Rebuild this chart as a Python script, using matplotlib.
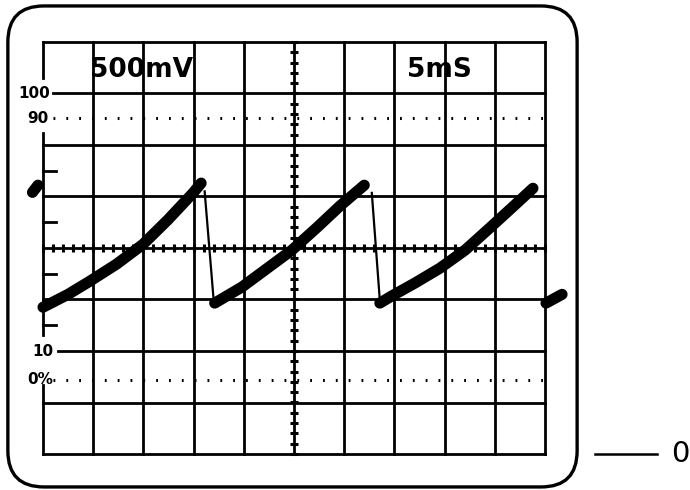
import numpy as np
import matplotlib
matplotlib.use("Agg")
import matplotlib.pyplot as plt
from matplotlib.patches import FancyBboxPatch

# Graticule: 10 x 8 divisions, values in divisions from the centre row
x_lines = list(range(0, 11))
y_lines = list(range(-4, 5))

# Level labels on the left edge (text, height in divisions, right end in divisions)
level_labels = ["100", "90", "10", "0%"]
level_heights = [3.0, 2.52, -2.0, -2.56]
level_right = [0.14, 0.10, 0.20, 0.20]
dotted_levels = [2.52, -2.56]

# Trace: three ramps of the sawtooth
ramp1_x = [0.0, 0.5, 0.94, 1.47, 1.99, 2.49, 2.99, 3.15]
ramp1_y = [-1.15, -0.90, -0.64, -0.31, 0.07, 0.55, 1.07, 1.26]
ramp2_x = [3.42, 3.96, 4.46, 4.96, 5.46, 5.92, 6.40]
ramp2_y = [-1.07, -0.76, -0.40, -0.04, 0.40, 0.82, 1.22]
ramp3_x = [6.71, 6.95, 7.41, 7.91, 8.41, 8.90, 9.36, 9.76]
ramp3_y = [-1.07, -0.93, -0.68, -0.39, -0.04, 0.39, 0.80, 1.16]
# Fly-back lines (thin)
drop1_x = [3.22, 3.40]
drop1_y = [1.10, -1.02]
drop2_x = [6.55, 6.71]
drop2_y = [1.07, -1.02]
# Stray pieces of trace outside the graticule
stub_left_x = [-0.21, -0.10]
stub_left_y = [1.08, 1.22]
stub_right_x = [10.02, 10.34]
stub_right_y = [-1.07, -0.90]

fig = plt.figure(figsize=(6.9, 4.9), dpi=100)
ax = fig.add_axes([0, 0, 1, 1])
ax.set_xlim(-43 / 50.2, (690 - 43) / 50.2)
ax.set_ylim((248 - 490) / 51.5, 248 / 51.5)
ax.axis("off")

ink = "black"
glw = 2.0

# rounded screen frame
frame = FancyBboxPatch((-0.70, -4.64), 11.34, 9.34,
                       boxstyle="round,pad=0,rounding_size=0.72",
                       mutation_aspect=0.975, fill=False, ec=ink, lw=2.4)
ax.add_patch(frame)

# vertical grid lines (left edge broken around the labels)
for x in x_lines:
    if x == 0:
        for y0, y1 in [(4, 3.30), (2.23, -1.69), (-2.66, -4)]:
            ax.plot([0, 0], [y0, y1], color=ink, lw=glw)
    else:
        ax.plot([x, x], [-4, 4], color=ink, lw=glw)

# horizontal grid lines
for y in y_lines:
    start = 0.0
    if y == 3:
        start = 0.2
    if y == -2:
        start = 0.3
    ax.plot([start, 10], [y, y], color=ink, lw=glw)

# dotted 90% / 0% lines
for y in dotted_levels:
    ax.plot([0.2, 10], [y, y], color=ink, lw=2.2, linestyle=(0, (0.6, 3.6)))

# minor ticks on the centre axes
minor = np.arange(-4, 4.01, 0.2)
ax.plot(np.full_like(minor, 5.0), minor, ls="none", marker="_", ms=5.5, mew=2.2, color=ink)
minor_x = np.arange(0, 10.01, 0.2)
ax.plot(minor_x, np.zeros_like(minor_x), ls="none", marker="|", ms=5.5, mew=2.2, color=ink)
# half-division ticks on the left edge
for y in [1.5, 0.5, -0.5, -1.5]:
    ax.plot([0, 0.25], [y, y], color=ink, lw=glw)

# level labels
for txt, y, xr in zip(level_labels, level_heights, level_right):
    ax.text(xr, y, txt, ha="right", va="center", fontsize=11,
            fontweight="bold", color=ink)

# scale labels
ax.text(1.97, 3.45, "500mV", ha="center", va="center", fontsize=19, color=ink,
        fontweight="bold")
ax.text(7.9, 3.45, "5mS", ha="center", va="center", fontsize=19, color=ink,
        fontweight="bold")

# trace
for xs, ys in [(ramp1_x, ramp1_y), (ramp2_x, ramp2_y), (ramp3_x, ramp3_y),
               (stub_left_x, stub_left_y), (stub_right_x, stub_right_y)]:
    ax.plot(xs, ys, color=ink, lw=8, solid_capstyle="round", solid_joinstyle="round")
for xs, ys in [(drop1_x, drop1_y), (drop2_x, drop2_y)]:
    ax.plot(xs, ys, color=ink, lw=1.6)

# ground reference marker on the right
ax.plot([(595 - 43) / 50.2, (657 - 43) / 50.2], [-4.0, -4.0], color=ink, lw=1.8)
ax.text((680 - 43) / 50.2, -4.0, "0", ha="center", va="center", fontsize=21, color=ink)

fig.savefig("out.png", dpi=100)
